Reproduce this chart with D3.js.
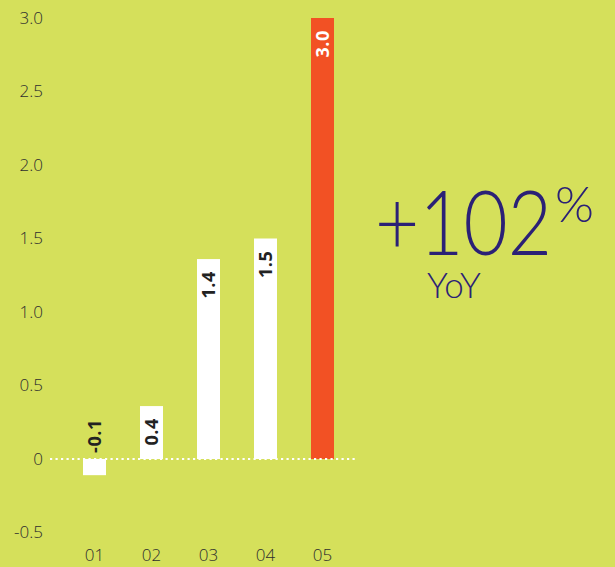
<!DOCTYPE html>
<html>
<head>
<meta charset="utf-8">
<script src="https://cdn.jsdelivr.net/npm/d3@7"></script>
<style>
  html, body { margin: 0; padding: 0; background: #d5e05b; }
  svg { display: block; }
</style>
</head>
<body>
<svg id="chart" width="615" height="567"></svg>
<script>
// Quarterly values
const categories = ["01", "02", "03", "04", "05"];
const values = [-0.11, 0.36, 1.36, 1.5, 3.0];
const yTicks = [-0.5, 0, 0.5, 1.0, 1.5, 2.0, 2.5, 3.0];
const headline = "+102";
const headlineUnit = "%";
const headlineSub = "YoY";

const W = 615, H = 567;
const bg = "#d5e05b";
const navy = "#2b2176";
const orange = "#f25124";
const ink = "#222222";

// one-decimal format with a plain hyphen for negatives
const fmt1 = v => d3.format(".1f")(v).replace("\u2212", "-");

const svg = d3.select("#chart");
svg.append("rect").attr("width", W).attr("height", H).attr("fill", bg);

const y = d3.scaleLinear().domain([0, 3]).range([459, 18]);
const x = d3.scaleBand()
  .domain(categories)
  .range([66, 351])
  .paddingInner(34 / 57)
  .paddingOuter(17 / 57);

// Y axis labels
const yAxis = d3.axisLeft(y)
  .tickValues(yTicks)
  .tickSize(0)
  .tickPadding(0)
  .tickFormat(d => d === 0 ? "0" : fmt1(d));
const gy = svg.append("g").attr("transform", "translate(43,0)").call(yAxis);
gy.select(".domain").remove();
gy.selectAll("text")
  .attr("fill", "#2e2e2e")
  .style("font-family", "'Open Sans', sans-serif")
  .style("font-weight", 300)
  .style("font-size", "17px");

// X axis labels
const xAxis = d3.axisBottom(x).tickSize(0).tickPadding(0);
const gx = svg.append("g").attr("transform", "translate(0,549)").call(xAxis);
gx.select(".domain").remove();
gx.selectAll("text")
  .attr("fill", "#2e2e2e")
  .style("font-family", "'Open Sans', sans-serif")
  .style("font-weight", 300)
  .style("font-size", "17px");

// Bars
const data = categories.map((c, i) => ({ c, v: values[i], last: i === categories.length - 1 }));
svg.append("g").selectAll("rect")
  .data(data)
  .join("rect")
  .attr("x", d => x(d.c))
  .attr("width", x.bandwidth())
  .attr("y", d => Math.min(y(d.v), y(0)))
  .attr("height", d => Math.abs(y(d.v) - y(0)))
  .attr("fill", d => d.last ? orange : "#ffffff");

// Dotted zero line
svg.append("line")
  .attr("x1", 50).attr("x2", 357)
  .attr("y1", y(0)).attr("y2", y(0))
  .attr("stroke", "#ffffff")
  .attr("stroke-width", 2.2)
  .attr("stroke-dasharray", "2.2 3.3");

// Value labels, rotated to read upwards: inside the top of positive bars,
// above the zero line for negative ones
svg.append("g").selectAll("text")
  .data(data)
  .join("text")
  .attr("transform", d => {
    const cx = x(d.c) + x.bandwidth() / 2;
    const ty = d.v >= 0 ? y(d.v) + 12 : y(0) - 6;
    return `translate(${cx},${ty}) rotate(-90)`;
  })
  .attr("text-anchor", d => d.v >= 0 ? "end" : "start")
  .attr("dy", "0.36em")
  .attr("fill", d => d.last ? "#ffffff" : ink)
  .style("font-family", "'Open Sans', sans-serif")
  .style("font-weight", 700)
  .style("font-size", "18px")
  .style("letter-spacing", "0.6px")
  .text(d => fmt1(d.v));

// Headline figure with its unit and sub-caption
const head = svg.append("text")
  .attr("fill", navy)
  .style("font-family", "Lato, sans-serif")
  .style("font-weight", 300);
head.append("tspan")
  .attr("x", 375).attr("y", 255)
  .style("font-size", "90px")
  .attr("textLength", 177)
  .attr("lengthAdjust", "spacingAndGlyphs")
  .text(headline);
head.append("tspan")
  .attr("dx", 3).attr("dy", -33)
  .style("font-size", "50px")
  .text(headlineUnit);
head.append("tspan")
  .attr("x", 427).attr("y", 298)
  .style("font-size", "35px")
  .text(headlineSub);
</script>
</body>
</html>
